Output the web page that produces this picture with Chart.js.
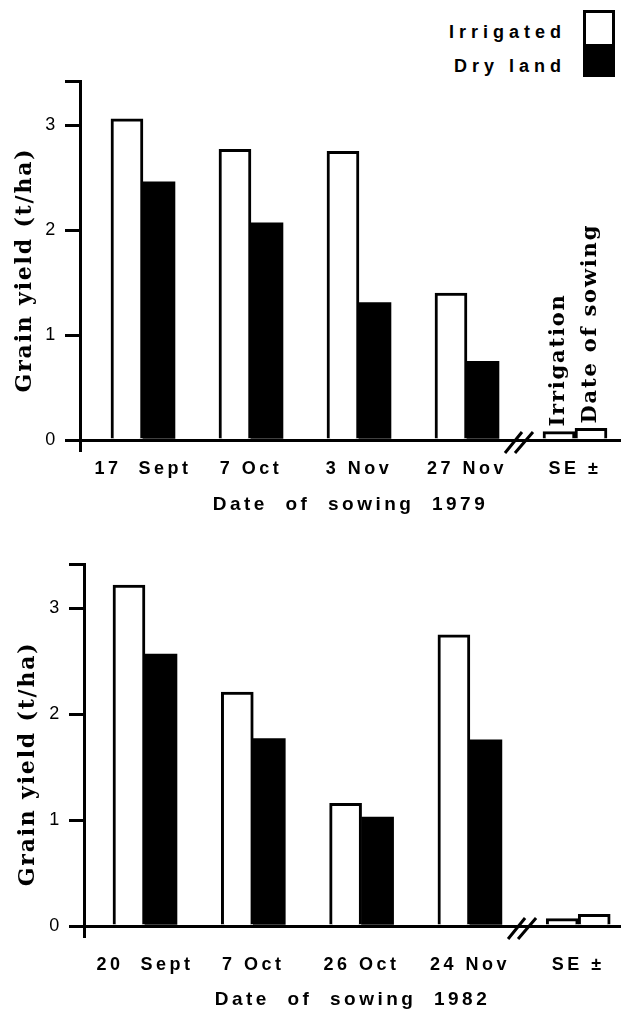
<!DOCTYPE html>
<html>
<head>
<meta charset="utf-8">
<title>Grain yield by date of sowing</title>
<script src="https://cdn.jsdelivr.net/npm/chart.js@4.4.0/dist/chart.umd.min.js"></script>
<style>
  body { margin:0; width:621px; height:1009px; overflow:hidden; background:#fff; position:relative;
         font-family:'Liberation Sans', Arial, sans-serif; }
  canvas { position:absolute; left:0; }
  .legend-text { position:absolute; right:55px; top:15px; text-align:right; font-weight:bold;
                 font-size:18px; line-height:34px; letter-spacing:5px; color:#000; }
  .legend-box { position:absolute; left:583px; top:10px; width:32px; height:67px; box-sizing:border-box;
                border:3px solid #000; background:linear-gradient(#fff 0 50%, #000 50% 100%); }
</style>
</head>
<body>
<div class="legend-text" id="legend-text"></div>
<div class="legend-box"></div>
<canvas id="chart1979" width="621" height="520" style="top:0"></canvas>
<canvas id="chart1982" width="621" height="489" style="top:520px"></canvas>
<script>
// ---- data (t/ha) ----
const seriesNames = ['Irrigated', 'Dry  land'];

const dates1979 = ['17  Sept', '7 Oct', '3 Nov', '27 Nov', 'SE ±'];
const irrigated1979 = [3.06, 2.77, 2.75, 1.40, 0.08];
const dryland1979   = [2.46, 2.07, 1.31, 0.75, 0.11];
const seLabels1979  = ['Irrigation', 'Date of sowing'];

const dates1982 = ['20  Sept', '7 Oct', '26 Oct', '24 Nov', 'SE ±'];
const irrigated1982 = [3.22, 2.21, 1.16, 2.75, 0.07];
const dryland1982   = [2.57, 1.77, 1.03, 1.76, 0.11];

const yTicks = [0, 1, 2, 3];
const yMax = 3.42;

document.getElementById('legend-text').innerHTML = seriesNames.join('<br>');

// the SE bar for "date of sowing" is drawn open, the others solid
const dryFill   = ['#000', '#000', '#000', '#000', '#fff'];
const dryBorder = [0, 0, 0, 0, 3];

// axis break, rotated SE labels, letter spacing of the axis text
const decorPlugin = {
  id: 'decor',
  beforeDraw(chart) { chart.ctx.letterSpacing = '1.8px'; },
  afterDatasetsDraw(chart, args, opts) {
    const ctx = chart.ctx;
    const x = chart.scales.x, y = chart.scales.y;
    const base = y.getPixelForValue(0);
    const mid = x.getPixelForValue(3.5);
    ctx.save();
    ctx.strokeStyle = '#000';
    ctx.lineWidth = 3;
    ctx.beginPath();
    ctx.moveTo(mid - 16, base + 13); ctx.lineTo(mid + 1, base - 8);
    ctx.moveTo(mid - 6, base + 13);  ctx.lineTo(mid + 12, base - 8);
    ctx.stroke();
    (opts.seLabels || []).forEach((txt, i) => {
      const bar = chart.getDatasetMeta(i).data[4];
      ctx.save();
      ctx.translate(bar.x, bar.y - 5);
      ctx.rotate(-Math.PI / 2);
      ctx.font = 'bold 21px "DejaVu Serif"';
      ctx.letterSpacing = '1.8px';
      ctx.textAlign = 'left';
      ctx.textBaseline = 'middle';
      ctx.fillStyle = '#000';
      ctx.fillText(txt, 0, 0);
      ctx.restore();
    });
    ctx.restore();
    ctx.letterSpacing = '3.5px';
  }
};

function makeChart(id, labels, irr, dry, cfg) {
  return new Chart(document.getElementById(id), {
    type: 'bar',
    data: {
      datasets: [
        { label: seriesNames[0], data: irr.map((v, i) => ({ x: i, y: v })),
          backgroundColor: '#fff', borderColor: '#000', borderWidth: 3 },
        { label: seriesNames[1], data: dry.map((v, i) => ({ x: i, y: v })),
          backgroundColor: dryFill, borderColor: '#000', borderWidth: dryBorder }
      ]
    },
    options: {
      responsive: false,
      animation: false,
      barThickness: 32,
      layout: { padding: { top: cfg.padTop, left: 0, right: 0, bottom: 0 } },
      plugins: {
        legend: { display: false },
        tooltip: { enabled: false },
        decor: { seLabels: cfg.seLabels }
      },
      scales: {
        x: {
          type: 'linear', min: cfg.xMin, max: cfg.xMax, offset: false,
          afterBuildTicks: s => { s.ticks = [{ value: s.min }].concat(labels.map((l, i) => ({ value: i }))); },
          ticks: { callback: v => Number.isInteger(v) && v >= 0 ? labels[v] : '',
                   font: { size: 18, weight: 'bold' }, color: '#000', padding: cfg.tickPad,
                   autoSkip: false, maxRotation: 0, z: 1 },
          grid: { offset: false, drawOnChartArea: false, tickLength: 12, lineWidth: 3, z: 1,
                  color: c => c.index === 0 ? '#000' : 'rgba(0,0,0,0)' },
          border: { color: '#000', width: 3, z: 1 },
          title: { display: true, text: cfg.xTitle, color: '#000',
                   font: { size: 19, weight: 'bold', lineHeight: 1 },
                   padding: { top: 0, bottom: cfg.titlePad } },
          afterFit: s => { s.height = cfg.xHeight; }
        },
        y: {
          min: 0, max: yMax,
          afterBuildTicks: s => { s.ticks = yTicks.map(v => ({ value: v })).concat({ value: s.max }); },
          ticks: { callback: v => yTicks.includes(v) ? v : '', font: { size: 18 }, color: '#000', padding: 8 },
          grid: { drawOnChartArea: false, color: '#000', lineWidth: 3, tickLength: 15 },
          border: { color: '#000', width: 3, z: 1 },
          title: { display: true, text: cfg.yTitle, color: '#000',
                   font: { family: 'DejaVu Serif', size: 22, weight: 'bold' },
                   padding: { top: cfg.yTitlePad, bottom: 0 } },
          afterFit: s => { s.width = cfg.yWidth; }
        }
      }
    },
    plugins: [decorPlugin]
  });
}

Chart.defaults.font.family = "'Liberation Sans', Arial, sans-serif";

// trailing spaces nudge the rotated y title down, as in the figure
makeChart('chart1979', dates1979, irrigated1979, dryland1979, {
  padTop: 81, xHeight: 80, yWidth: 80, xMin: -0.583, xMax: 4.426,
  tickPad: 6, titlePad: 6, yTitlePad: 11.8,
  yTitle: 'Grain yield (t/ha)  ',
  xTitle: 'Date  of  sowing  1979', seLabels: seLabels1979
});
makeChart('chart1982', dates1982, irrigated1982, dryland1982, {
  padTop: 44, xHeight: 83, yWidth: 84, xMin: -0.563, xMax: 4.395,
  tickPad: 16, titlePad: 0, yTitlePad: 14.8,
  yTitle: 'Grain yield (t/ha)    ',
  xTitle: 'Date  of  sowing  1982', seLabels: []
});
</script>
</body>
</html>
